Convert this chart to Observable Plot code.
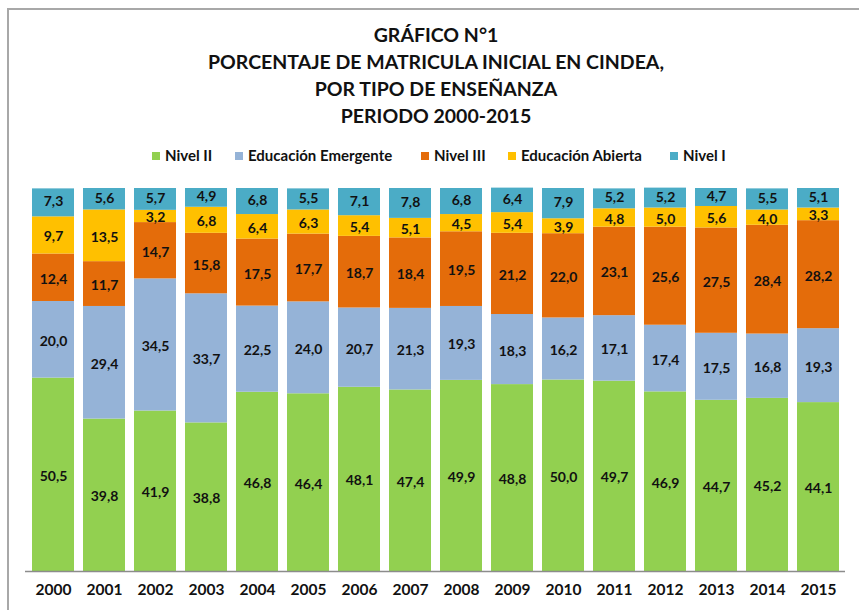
<!DOCTYPE html>
<html>
<head>
<meta charset="utf-8">
<script src="https://cdn.jsdelivr.net/npm/d3@7"></script>
<script src="https://cdn.jsdelivr.net/npm/@observablehq/plot@0.6"></script>
<style>
  html, body { margin: 0; padding: 0; background: #fff; }
  #wrap { position: relative; width: 859px; height: 610px; overflow: hidden; font-family: Lato, "Open Sans", sans-serif; color: #111; }
  #frame { position: absolute; left: 7px; top: 8px; width: 870px; height: 620px; border-top: 2px solid #a8a8a8; border-left: 2px solid #a8a8a8; box-sizing: border-box; }
  #title { position: absolute; left: 0; width: 872px; top: 21px; text-align: center; font-weight: 700; font-size: 19.5px; line-height: 27px; }
  #legend { position: absolute; top: 145px; left: 0; width: 859px; height: 20px; }
  .li { position: absolute; top: 0; font-size: 15px; font-weight: 700; line-height: 20px; white-space: nowrap; }
  .sw { display: inline-block; width: 8px; height: 8px; margin-right: 5px; vertical-align: 1px; }
  #chart { position: absolute; left: 0; top: 180px; }
</style>
</head>
<body>
<div id="wrap">
  <div id="frame"></div>
  <div id="title">GRÁFICO N°1<br>PORCENTAJE DE MATRICULA INICIAL EN CINDEA,<br>POR TIPO DE ENSEÑANZA<br>PERIODO 2000-2015</div>
  <div id="legend"></div>
  <div id="chart"></div>
</div>
<script>
const years = ["2000","2001","2002","2003","2004","2005","2006","2007","2008","2009","2010","2011","2012","2013","2014","2015"];
const seriesNames = ["Nivel II", "Educación Emergente", "Nivel III", "Educación Abierta", "Nivel I"];
const seriesColors = ["#92D050", "#95B3D7", "#E46C0A", "#FFC000", "#4BACC6"];
const nivelII        = [50.5, 39.8, 41.9, 38.8, 46.8, 46.4, 48.1, 47.4, 49.9, 48.8, 50.0, 49.7, 46.9, 44.7, 45.2, 44.1];
const educEmergente  = [20.0, 29.4, 34.5, 33.7, 22.5, 24.0, 20.7, 21.3, 19.3, 18.3, 16.2, 17.1, 17.4, 17.5, 16.8, 19.3];
const nivelIII       = [12.4, 11.7, 14.7, 15.8, 17.5, 17.7, 18.7, 18.4, 19.5, 21.2, 22.0, 23.1, 25.6, 27.5, 28.4, 28.2];
const educAbierta    = [9.7, 13.5, 3.2, 6.8, 6.4, 6.3, 5.4, 5.1, 4.5, 5.4, 3.9, 4.8, 5.0, 5.6, 4.0, 3.3];
const nivelI         = [7.3, 5.6, 5.7, 4.9, 6.8, 5.5, 7.1, 7.8, 6.8, 6.4, 7.9, 5.2, 5.2, 4.7, 5.5, 5.1];

const seriesValues = [nivelII, educEmergente, nivelIII, educAbierta, nivelI];
const data = [];
years.forEach((y, i) => {
  seriesNames.forEach((s, j) => data.push({year: y, serie: s, value: seriesValues[j][i]}));
});
const fmt = d => d.value.toFixed(1).replace(".", ",");
const topSerie = seriesNames[seriesNames.length - 1];

// Legend
const legendX = [152, 235, 421, 508, 670];
const legend = document.getElementById("legend");
seriesNames.forEach((s, j) => {
  const el = document.createElement("div");
  el.className = "li";
  el.style.left = legendX[j] + "px";
  el.innerHTML = `<span class="sw" style="background:${seriesColors[j]}"></span>${s}`;
  legend.appendChild(el);
});

// stack first, then filter (so every label keeps its stacked position)
const labelMark = (test, dy) => Plot.text(data, Plot.filter(test, Plot.stackY({
  x: "year", y: "value", z: "serie", order: seriesNames, text: fmt,
  fill: "#111", fontSize: 14, fontWeight: 700, dy
})));

const chart = Plot.plot({
  width: 859,
  height: 430,
  marginTop: 8,
  marginBottom: 39,
  marginLeft: 25,
  marginRight: 14,
  style: {fontFamily: "Lato, 'Open Sans', sans-serif", background: "transparent"},
  x: {domain: years, paddingInner: 0.18, paddingOuter: 0.09, label: null, tickSize: 0, tickPadding: 13},
  y: {domain: [0, 100], axis: null},
  color: {domain: seriesNames, range: seriesColors},
  marks: [
    Plot.barY(data, Plot.stackY({x: "year", y: "value", fill: "serie", order: seriesNames})),
    Plot.ruleY([0], {stroke: "#8c8c8c", strokeWidth: 1.5}),
    labelMark(d => d.serie !== topSerie, 1.5),
    labelMark(d => d.serie === topSerie, -1),
    Plot.axisX({tickSize: 0, tickPadding: 12, fontSize: 15.5, fontWeight: 700, label: null, fill: "#111"})
  ]
});
document.getElementById("chart").appendChild(chart);
</script>
</body>
</html>
